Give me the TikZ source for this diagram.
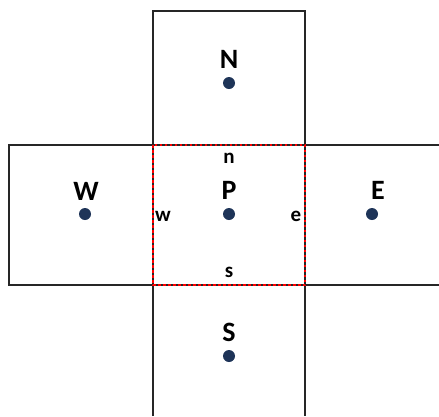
\documentclass[tikz,border=0pt]{standalone}
\usepackage{fontspec}
\setmainfont{Carlito}
\begin{document}
\begin{tikzpicture}[x=1pt,y=-1pt,
  grid/.style={draw=black!85,line width=2pt},
  face/.style={draw=red,line width=2.2pt,dash pattern=on 2.5pt off 2.5pt},
  pt/.style={circle,fill=dotblue,inner sep=0pt,minimum size=12pt},
  big/.style={font=\bfseries\fontsize{28}{28}\selectfont,inner sep=0pt},
  small/.style={font=\bfseries\fontsize{21}{21}\selectfont,inner sep=0pt}]
\definecolor{dotblue}{RGB}{30,52,88}
\useasboundingbox (0,0) rectangle (439,416);
\fill[white] (0,0) rectangle (439,416);
% cell outlines
\draw[grid] (153,416) -- (153,11) -- (305,11) -- (305,416);
\draw[grid] (439,145) -- (9,145) -- (9,285) -- (439,285);
% control volume face
\draw[face] (153,145) rectangle (305,285);
% nodes
\node[pt] (P) at (229,214) {};
\node[pt] (N) at (229,83) {};
\node[pt] (S) at (229,356) {};
\node[pt] (W) at (85,214) {};
\node[pt] (E) at (372,214) {};
% labels
\node[big] (lP) at (229,190) {P};
\node[big] (lN) at (229,59) {N};
\node[big] (lS) at (229,332) {S};
\node[big] (lW) at (86,191) {W};
\node[big] (lE) at (378,190) {E};
\node[small] (ln) at (229,158) {n};
\node[small] (ls) at (229,272) {s};
\node[small] (lw) at (163,216) {w};
\node[small] (le) at (296,216) {e};
\end{tikzpicture}
\end{document}
